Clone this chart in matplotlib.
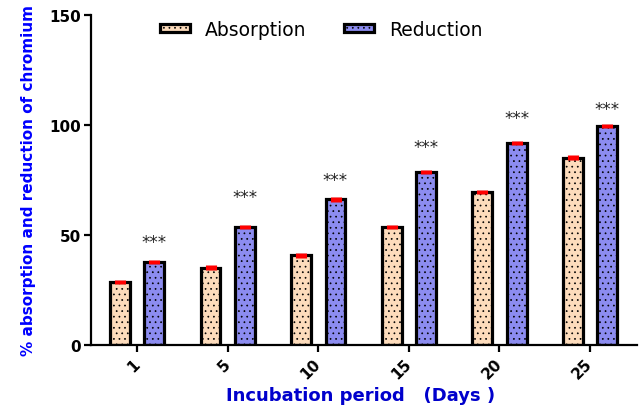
import numpy as np
import matplotlib
matplotlib.use("Agg")
import matplotlib.pyplot as plt
from matplotlib.patches import Patch

# Data
days = ["1", "5", "10", "15", "20", "25"]
absorption = [28.5, 35, 40.5, 53.5, 69.5, 85]
reduction = [37.5, 53.5, 66, 78.5, 91.7, 99.3]
abs_err = [1.0, 1.0, 1.0, 1.0, 1.0, 1.0]
red_err = [1.0, 1.0, 1.0, 1.0, 1.0, 1.0]
star_y = [46.5, 67, 75, 90, 103, 107]
yticks = [0, 50, 100, 150]

abs_color = "#FDDCBC"
red_color = "#8C8CF0"

plt.rcParams['font.family'] = ['DejaVu Sans']
plt.rcParams['hatch.linewidth'] = 0.5

fig = plt.figure(figsize=(6.39, 4.06), dpi=100)
ax = fig.add_axes([0.1424, 0.149, 0.997 - 0.1424, 0.961 - 0.149])

x = np.arange(len(days))
off = 0.19
w = 0.22
ax.bar(x - off, absorption, w, color=abs_color, edgecolor="black", linewidth=2.3, hatch="...", zorder=2)
ax.bar(x + off, reduction, w, color=red_color, edgecolor="black", linewidth=2.3, hatch="...", zorder=2)
ax.errorbar(x - off, absorption, yerr=abs_err, fmt="none", ecolor="#FF0000", elinewidth=8, capsize=0, zorder=3)
ax.errorbar(x + off, reduction, yerr=red_err, fmt="none", ecolor="#FF0000", elinewidth=8, capsize=0, zorder=3)

for xi, sy in zip(x + off, star_y):
    ax.text(xi, sy, "***", ha="center", va="center", fontsize=12, color="#222222")

ax.set_xlim(-0.51, 5.52)
ax.set_ylim(0, 150)
ax.set_yticks(yticks)
ax.set_xticks(x)
ax.set_xticklabels(days, rotation=45, ha="right", va="center", rotation_mode="anchor",
                   fontsize=11, fontweight="bold")
for lab in ax.get_yticklabels():
    lab.set_fontsize(11)
    lab.set_fontweight("bold")

for s in ["top", "right"]:
    ax.spines[s].set_visible(False)
for s in ["left", "bottom"]:
    ax.spines[s].set_linewidth(1.6)
ax.tick_params(axis="both", direction="out", length=5, width=1.6, pad=2)
ax.tick_params(axis="x", pad=7)

ax.set_ylabel("% absorption and reduction of chromium", color="#0000FF",
              fontsize=11, fontweight="bold")
ax.yaxis.set_label_coords(-0.10, 0.5)
ax.set_xlabel("Incubation period   (Days )", color="#0000CC",
              fontsize=13, fontweight="bold")
ax.xaxis.set_label_coords(0.493, -0.125)

handles = [Patch(facecolor=abs_color, edgecolor="black", linewidth=2.3, hatch="..."),
           Patch(facecolor=red_color, edgecolor="black", linewidth=2.3, hatch="...")]
fig.legend(handles, ["Absorption", "Reduction"], ncol=2, frameon=False,
           loc="center left", bbox_to_anchor=(0.236, 0.926), borderpad=0,
           fontsize=13.5, handlelength=1.6, handleheight=0.32,
           handletextpad=0.8, columnspacing=2.0)

fig.savefig("out.png", dpi=100)
